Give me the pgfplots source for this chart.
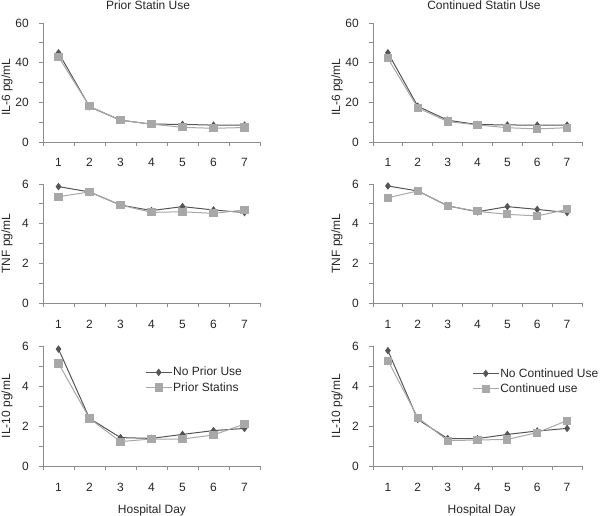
\documentclass[border=0pt]{standalone}
\usepackage{fontspec}
\setmainfont{Liberation Sans}
\usepackage{pgfplots}
\pgfplotsset{compat=1.18}
\definecolor{darkser}{HTML}{555555}
\definecolor{lightser}{HTML}{A8A8A8}
\definecolor{axgray}{HTML}{8C8C8C}
\pgfplotsset{
  panel/.style={
    scale only axis,
    axis x line*=bottom, axis y line*=left,
    xmin=0.5, xmax=7.5, ymin=0,
    xtick={1,...,7}, minor xtick={0.5,1.5,...,7.5},
    tick align=outside,
    major tick length=4pt, minor tick length=4pt,
    axis line style={axgray, line width=0.8pt},
    every tick/.style={axgray, line width=0.8pt},
    major x tick style={draw=none},
    tick label style={font=\fontsize{12}{14}\selectfont, text=black!85},
    label style={font=\fontsize{12}{14}\selectfont, text=black!85},
    title style={font=\fontsize{12}{14}\selectfont, text=black!85},
    /pgf/number format/assume math mode=true,
    xticklabel style={anchor=base, yshift=-21pt},
    yticklabel style={anchor=east, inner sep=0pt, xshift=-10pt},
    clip=false,
  },
  dk/.style={darkser, line width=1pt, mark=diamond*, mark size=3pt, mark options={fill=darkser, draw=darkser}},
  lt/.style={lightser, line width=1pt, mark=square*, mark size=3.6pt, mark options={fill=lightser, draw=lightser}},
  il6/.style={ymax=60, ytick={0,20,40,60}, minor ytick={10,30,50}},
  sm/.style={ymax=6, ytick={0,2,4,6}, minor ytick={1,3,5}},
  ylL/.style={ylabel style={at={(axis description cs:-0.166,#1)}, anchor=center}},
  ylR/.style={ylabel style={at={(axis description cs:-0.172,#1)}, anchor=center}},
}
\begin{document}
\begin{tikzpicture}[x=1pt,y=1pt]
\path[use as bounding box] (0,0) rectangle (600,515);
% ---------- left column ----------
\begin{axis}[panel, il6, at={(43pt,373pt)}, anchor=south west, width=217pt, height=119pt,
  ylabel={IL-6 pg/mL}, ylL=0.46,
  title={Prior Statin Use}, title style={at={(axis description cs:0.484,1)}, anchor=center, yshift=12pt}]
\addplot[dk] coordinates {(1,45.0) (2,17.8) (3,11.0) (4,9.0) (5,8.9) (6,8.5) (7,8.5)};
\addplot[lt] coordinates {(1,43.0) (2,18.0) (3,11.0) (4,9.0) (5,7.4) (6,6.9) (7,7.3)};
\end{axis}
\begin{axis}[panel, sm, at={(43pt,212pt)}, anchor=south west, width=217pt, height=119pt,
  ylabel={TNF pg/mL}, ylL=0.5]
\addplot[dk] coordinates {(1,5.87) (2,5.60) (3,4.94) (4,4.66) (5,4.86) (6,4.69) (7,4.56)};
\addplot[lt] coordinates {(1,5.36) (2,5.60) (3,4.94) (4,4.57) (5,4.60) (6,4.52) (7,4.69)};
\end{axis}
\begin{axis}[panel, sm, at={(43pt,49pt)}, anchor=south west, width=217pt, height=120pt,
  ylabel={IL-10 pg/mL}, ylL=0.5,
  xlabel={Hospital Day}, xlabel style={at={(axis description cs:0.502,0)}, anchor=center, yshift=-44pt},
  legend style={draw=none, fill=none, at={(axis description cs:0.47,0.717)}, anchor=west, inner sep=0pt, row sep=3pt,
    nodes={inner sep=1pt, anchor=west, font=\fontsize{12}{14}\selectfont, text=black!85}},
  legend image code/.code={\draw[mark repeat=2, mark phase=2] plot coordinates {(0pt,0pt) (13pt,0pt) (26pt,0pt)};}]
\addplot[dk] coordinates {(1,5.85) (2,2.38) (3,1.42) (4,1.38) (5,1.58) (6,1.77) (7,1.88)};
\addplot[lt] coordinates {(1,5.13) (2,2.38) (3,1.22) (4,1.35) (5,1.35) (6,1.55) (7,2.10)};
\legend{No Prior Use, Prior Statins}
\end{axis}
% ---------- right column ----------
\begin{axis}[panel, il6, at={(373pt,373pt)}, anchor=south west, width=209pt, height=119pt,
  ylabel={IL-6 pg/mL}, ylR=0.46,
  title={Continued Statin Use}, title style={at={(axis description cs:0.531,1)}, anchor=center, yshift=12pt}]
\addplot[dk] coordinates {(1,45.0) (2,18.0) (3,11.0) (4,8.8) (5,8.6) (6,8.5) (7,8.5)};
\addplot[lt] coordinates {(1,42.2) (2,17.2) (3,10.3) (4,8.6) (5,7.2) (6,6.6) (7,7.2)};
\end{axis}
\begin{axis}[panel, sm, at={(373pt,212pt)}, anchor=south west, width=209pt, height=119pt,
  ylabel={TNF pg/mL}, ylR=0.5]
\addplot[dk] coordinates {(1,5.90) (2,5.65) (3,4.90) (4,4.60) (5,4.86) (6,4.72) (7,4.56)};
\addplot[lt] coordinates {(1,5.31) (2,5.65) (3,4.90) (4,4.62) (5,4.47) (6,4.39) (7,4.72)};
\end{axis}
\begin{axis}[panel, sm, at={(373pt,49pt)}, anchor=south west, width=209pt, height=120pt,
  ylabel={IL-10 pg/mL}, ylR=0.5,
  xlabel={Hospital Day}, xlabel style={at={(axis description cs:0.52,0)}, anchor=center, yshift=-44pt},
  legend style={draw=none, fill=none, at={(axis description cs:0.474,0.708)}, anchor=west, inner sep=0pt, row sep=3pt,
    nodes={inner sep=1pt, anchor=west, font=\fontsize{12}{14}\selectfont, text=black!85}},
  legend image code/.code={\draw[mark repeat=2, mark phase=2] plot coordinates {(0pt,0pt) (13pt,0pt) (26pt,0pt)};}]
\addplot[dk] coordinates {(1,5.77) (2,2.33) (3,1.37) (4,1.37) (5,1.58) (6,1.75) (7,1.88)};
\addplot[lt] coordinates {(1,5.27) (2,2.42) (3,1.27) (4,1.30) (5,1.33) (6,1.67) (7,2.27)};
\legend{No Continued Use, Continued use}
\end{axis}
\end{tikzpicture}
\end{document}
